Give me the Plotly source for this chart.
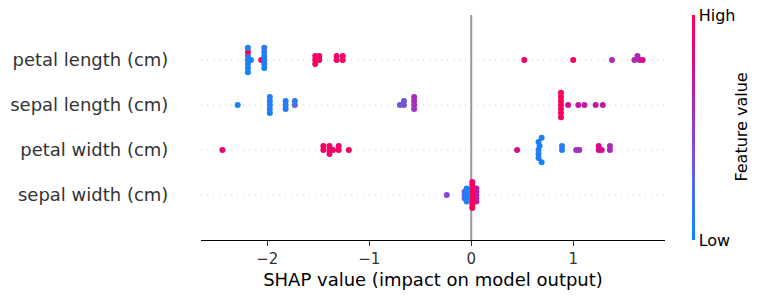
import numpy as np
import plotly.graph_objects as go

# Feature names, bottom row first (row index 0 = bottom)
features = ["sepal width (cm)", "petal width (cm)", "sepal length (cm)", "petal length (cm)"]

# ---- SHAP values and normalised feature values (0 = low, 1 = high) ----
petal_length_shap = [-2.16, -2.19, -2.19, -2.19, -2.19, -2.19, -2.19, -2.19,
                     -2.06, -2.03, -2.03, -2.03, -2.03, -2.03, -2.03,
                     -1.53, -1.53, -1.53, -1.49, -1.49, -1.32, -1.32, -1.26, -1.26,
                     0.52, 1.00, 1.38, 1.60, 1.65, 1.63, 1.68]
petal_length_val = [0.08, 0.05, 0.10, 0.12, 0.95, 0.08, 0.10, 0.05,
                    0.95, 0.10, 0.08, 0.12, 0.10, 0.05, 0.15,
                    0.95, 0.92, 0.97, 0.95, 0.93, 0.95, 0.90, 0.95, 0.97,
                    0.92, 0.95, 0.60, 0.62, 0.65, 0.62, 0.80]

sepal_length_shap = [-2.29, -1.975, -1.975, -1.975, -1.975, -1.975,
                     -1.82, -1.82, -1.82, -1.73, -1.73,
                     -0.70, -0.66, -0.66, -0.56, -0.56, -0.56, -0.56,
                     0.88, 0.88, 0.88, 0.88, 0.88, 0.88, 0.88,
                     0.95, 1.05, 1.11, 1.22, 1.29]
sepal_length_val = [0.05, 0.10, 0.08, 0.12, 0.10, 0.05,
                     0.15, 0.12, 0.10, 0.30, 0.15,
                     0.35, 0.38, 0.35, 0.55, 0.58, 0.55, 0.60,
                     1.00, 0.97, 0.95, 1.00, 0.92, 0.98, 0.95,
                     0.78, 0.72, 0.72, 0.70, 0.70]

petal_width_shap = [-2.44, -1.45, -1.45, -1.39, -1.39, -1.39, -1.355, -1.30, -1.30, -1.20,
                    0.45, 0.66, 0.67, 0.66, 0.66, 0.66, 0.69, 0.69,
                    0.89, 0.89, 1.03, 1.06, 1.25, 1.25, 1.28, 1.36, 1.36]
petal_width_val = [0.88, 0.93, 0.95, 0.93, 0.95, 0.90, 0.95, 0.95, 0.93, 0.95,
                   0.80, 0.10, 0.05, 0.10, 0.08, 0.12, 0.10, 0.05,
                   0.10, 0.12, 0.55, 0.58, 0.80, 0.80, 0.80, 0.62, 0.60]

sepal_width_shap = [-0.24, -0.065, -0.065, -0.065, -0.045, -0.045, -0.045, -0.045, -0.045,
                    0.05, 0.05, 0.05, 0.05, 0.05,
                    0.01, 0.01, 0.01, 0.01, 0.01, 0.01, 0.01, 0.01, 0.01]
sepal_width_val = [0.45, 0.30, 0.32, 0.30, 0.08, 0.10, 0.08, 0.06, 0.10,
                   0.70, 0.72, 0.68, 0.70, 0.75,
                   0.95, 0.97, 0.95, 0.93, 0.98, 0.95, 0.96, 0.94, 0.97]

rows = [
    (sepal_width_shap, sepal_width_val),
    (petal_width_shap, petal_width_val),
    (sepal_length_shap, sepal_length_val),
    (petal_length_shap, petal_length_val),
]

x_ticks = [-2, -1, 0, 1]
cbar_ticktext = ["Low", "High"]
cbar_title = "Feature value"

colorscale = [
    [0.0, "rgb(0,139,250)"],
    [0.2, "rgb(70,112,238)"],
    [0.4, "rgb(124,78,214)"],
    [0.6, "rgb(168,44,184)"],
    [0.8, "rgb(214,12,140)"],
    [1.0, "rgb(255,0,82)"],
]


def swarm_offsets(shaps, row_height=0.4, nbins=100):
    """SHAP beeswarm jitter: stack points that fall in the same bin."""
    shaps = np.asarray(shaps, float)
    n = len(shaps)
    quant = np.round(nbins * (shaps - shaps.min()) / (shaps.max() - shaps.min() + 1e-8))
    inds = np.argsort(quant, kind="stable")
    layer, last_bin = 0, -1
    ys = np.zeros(n)
    for ind in inds:
        if quant[ind] != last_bin:
            layer = 0
        ys[ind] = np.ceil(layer / 2) * ((layer % 2) * 2 - 1)
        layer += 1
        last_bin = quant[ind]
    ys *= 0.9 * (row_height / np.max(ys + 1))
    return ys


fig = go.Figure()
for pos, (sv, fv) in enumerate(rows):
    off = swarm_offsets(sv)
    fig.add_trace(go.Scatter(
        x=sv, y=pos + off, mode="markers",
        marker=dict(size=6, color=fv, coloraxis="coloraxis", line=dict(width=0)),
        showlegend=False, hoverinfo="skip",
    ))

shapes = []
for pos in range(len(features)):
    shapes.append(dict(type="line", xref="paper", x0=0, x1=1, yref="y", y0=pos, y1=pos,
                       line=dict(color="#cccccc", width=1, dash="1px,5px"), layer="below"))
shapes.append(dict(type="line", xref="x", x0=0, x1=0, yref="paper", y0=0, y1=1,
                   line=dict(color="#999999", width=2), layer="below"))

fig.update_layout(
    width=761, height=299,
    margin=dict(l=201, r=96, t=15, b=59, autoexpand=False),
    paper_bgcolor="white", plot_bgcolor="white",
    font=dict(family="DejaVu Sans", color="#333333"),
    shapes=shapes,
    annotations=[dict(text=cbar_title, xref="paper", yref="paper", x=1.164, y=0.5,
                      textangle=-90, showarrow=False, xanchor="center", yanchor="middle",
                      font=dict(size=16, color="#000000"))],
    coloraxis=dict(
        cmin=0, cmax=1, colorscale=colorscale,
        colorbar=dict(
            x=1.058, xanchor="left", xpad=0, y=0.5, yanchor="middle",
            len=1.0, lenmode="fraction", ypad=0, thickness=3, outlinewidth=0,
            tickvals=[0, 1], ticktext=cbar_ticktext, ticks="",
            tickfont=dict(size=16, color="#000000"),
        ),
    ),
    xaxis=dict(
        range=[-2.65, 1.90], tickvals=x_ticks, showgrid=False, zeroline=False,
        showline=True, linecolor="#000000", linewidth=1, automargin=False,
        ticks="outside", ticklen=5, tickwidth=1, tickcolor="#333333",
        tickfont=dict(size=15, color="#333333"),
        title=dict(text="SHAP value (impact on model output)", standoff=6,
                   font=dict(size=18, color="#000000")),
    ),
    yaxis=dict(
        range=[-1, 4], tickvals=list(range(len(features))), ticktext=features,
        showgrid=False, zeroline=False, showline=False, automargin=False,
        ticks="outside", ticklen=28, tickcolor="rgba(0,0,0,0)",
        tickfont=dict(size=18, color="#333333"),
    ),
)

fig.write_html("out.html", config={"displayModeBar": False},
               post_script="document.body.style.margin='0px';")
